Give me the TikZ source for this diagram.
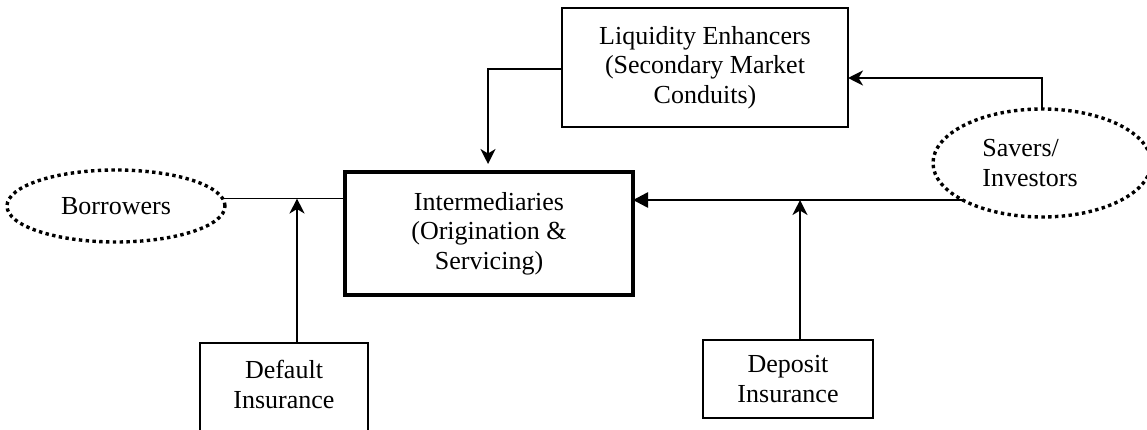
\documentclass[tikz,border=0pt]{standalone}
\usepackage{fontspec}
\setmainfont{Liberation Serif}
\usetikzlibrary{shapes.geometric,arrows.meta}
\begin{document}
\begin{tikzpicture}[x=1pt,y=-1pt,
  every node/.style={font=\fontsize{26}{29.5}\selectfont, align=center},
  boxnode/.style={draw, line width=2pt, inner sep=0pt, outer sep=0pt},
  mainbox/.style={draw, line width=3.5pt, inner sep=0pt, outer sep=0pt},
  dotell/.style={draw, ellipse, line width=3.4pt, dash pattern=on 3.4pt off 3.4pt, inner sep=0pt, outer sep=0pt},
  conn/.style={line width=1.9pt},
  tip/.style={-{Stealth[length=15pt,width=15pt,inset=4.5pt]}},
  bigconn/.style={line width=2.6pt,-{Triangle[length=15pt,width=15pt]}}]
\useasboundingbox (0,0) rectangle (1147,430);
\clip (0,0) rectangle (1147,430);

\node[dotell, minimum width=218, minimum height=72] (borr) at (116,206) {Borrowers};
\node[dotell, minimum width=218, minimum height=108] (savers) at (1042,163) {};
\node[align=left, inner sep=0pt] (saverstext) at ([xshift=-12,yshift=0]savers.center) {Savers/\\Investors};
\node[mainbox, minimum width=288, minimum height=123] (inter) at (489,233.5) {Intermediaries\\(Origination \&\\Servicing)};
\node[boxnode, minimum width=286, minimum height=119] (liq) at (705,67.5) {Liquidity Enhancers\\(Secondary Market\\Conduits)};
\node[boxnode, minimum width=168, minimum height=110, anchor=north] (defbox) at (284,343) {};
\node[anchor=north, inner sep=0pt] (deftext) at ([yshift=-17]defbox.north) {Default\\Insurance};
\node[boxnode, minimum width=170, minimum height=78] (depins) at (788,379) {Deposit\\Insurance};

% borrowers to intermediaries
\draw[conn] (borr.4) -- (borr.4 -| inter.west);
% default insurance arrow
\draw[conn,tip] ([xshift=13]defbox.north) -- ([xshift=13]defbox.north |- borr.4);
% savers to intermediaries
\draw[bigconn] (savers.205) -- (savers.205 -| inter.east);
% deposit insurance arrow
\draw[conn,tip] ([xshift=12]depins.north) -- ([xshift=12]depins.north |- savers.205);
% savers to liquidity
\draw[conn,tip] (savers.north) |- ([yshift=-10.5]liq.east);
% liquidity to intermediaries
\draw[conn,tip,shorten >=8pt] ([yshift=-1.5]liq.west) -| ([xshift=-1]inter.north);
\end{tikzpicture}
\end{document}
